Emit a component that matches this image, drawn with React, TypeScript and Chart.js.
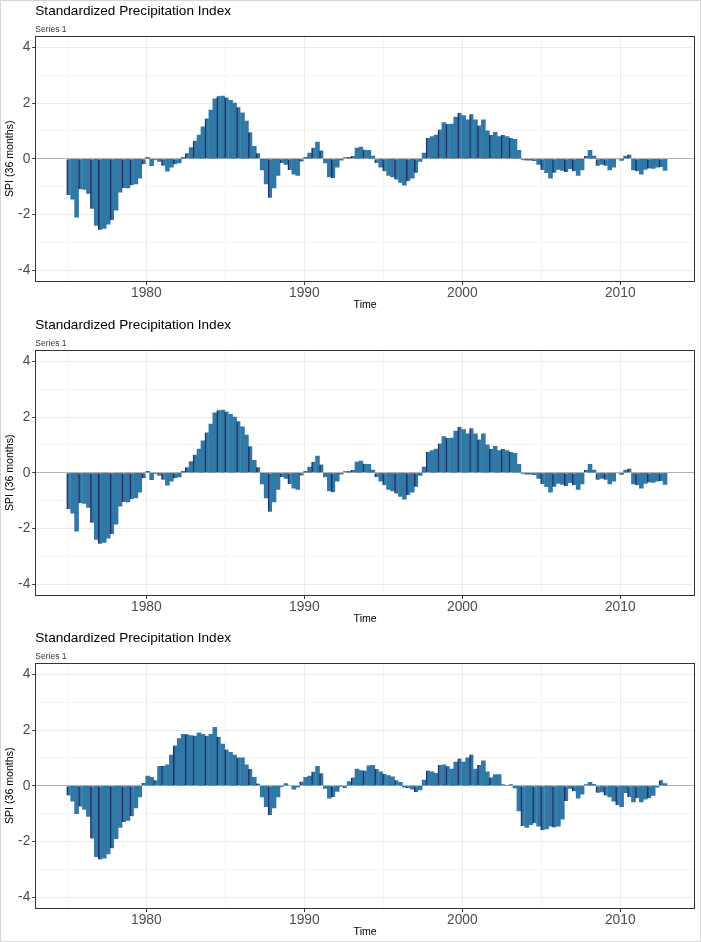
import { useEffect, useRef } from 'react';
import { Chart, registerables } from 'chart.js';

Chart.register(...registerables);

// ---------- text ----------
const chartTitle = 'Standardized Precipitation Index';
const seriesLabel = 'Series 1';
const yAxisTitle = 'SPI (36 months)';
const xAxisTitle = 'Time';

// ---------- axes ----------
const startYear = 1975;
const periodsPerYear = 4; // quarterly readings
const xMajorTicks = [1980, 1990, 2000, 2010];
const xMinorTicks = [1975, 1985, 1995, 2005];
const yMajorTicks = [-4, -2, 0, 2, 4];
const yMinorTicks = [-3, -1, 1, 3];
const xLimits = [1972.97, 2014.73];
const yLimits = [-4.43, 4.43];

// ---------- series values (SPI, quarterly, 1975 - 2012) ----------
const spiSeriesA = [
  -1.3, -1.45, -2.1, -1.1, -1.1, -1.25, -1.8, -2.4,
  -2.55, -2.5, -2.35, -2.2, -1.85, -1.2, -1.05, -1.05,
  -0.95, -0.9, -0.7, -0.2, 0.05, -0.25, -0.05, -0.1,
  -0.25, -0.45, -0.3, -0.2, -0.15, 0.05, 0.2, 0.4,
  0.65, 0.85, 1.15, 1.45, 1.75, 2.15, 2.25, 2.25,
  2.2, 2.1, 2.0, 1.85, 1.65, 1.35, 0.95, 0.45,
  0.2, -0.4, -0.9, -1.4, -1.05, -0.6, -0.15, -0.2,
  -0.4, -0.55, -0.6, -0.1, 0.05, 0.2, 0.4, 0.6,
  0.3, -0.15, -0.65, -0.7, -0.3, -0.05, 0.05, 0.05,
  0.1, 0.38, 0.42, 0.32, 0.3, 0.1, -0.15, -0.3,
  -0.45, -0.6, -0.65, -0.75, -0.85, -0.95, -0.8, -0.7,
  -0.5, -0.1, 0.2, 0.75, 0.8, 0.85, 1.05, 1.3,
  1.25, 1.25, 1.5, 1.65, 1.55, 1.4, 1.6, 1.4,
  1.2, 1.4, 1.0, 0.85, 0.95, 0.8, 0.85, 0.8,
  0.75, 0.7, 0.3, -0.05, -0.05, -0.05, -0.08, -0.2,
  -0.4, -0.5, -0.7, -0.5, -0.38, -0.42, -0.48, -0.36,
  -0.45, -0.6, -0.4, 0.1, 0.3, 0.1, -0.25, -0.2,
  -0.25, -0.4, -0.3, -0.03, -0.06, 0.1, 0.15, -0.4,
  -0.45, -0.55, -0.38, -0.35, -0.35, -0.3, -0.3, -0.42,
];

const spiSeriesB = [
  -0.35, -0.55, -1.0, -0.75, -0.85, -1.1, -1.9, -2.55,
  -2.65, -2.6, -2.45, -2.25, -1.9, -1.5, -1.3, -1.25,
  -1.1, -0.8, -0.4, 0.1, 0.35, 0.3, 0.2, 0.7,
  0.72, 0.75, 1.1, 1.45, 1.7, 1.85, 1.85, 1.8,
  1.8, 1.9, 1.85, 1.8, 1.85, 2.1, 1.75, 1.5,
  1.3, 1.2, 1.1, 1.02, 1.0, 0.75, 0.6, 0.3,
  0.08, -0.4, -0.75, -1.05, -0.8, -0.4, -0.05, 0.08,
  -0.02, -0.12, -0.05, 0.15, 0.3, 0.35, 0.5, 0.7,
  0.45, -0.1, -0.45, -0.4, -0.2, -0.02, -0.08, 0.15,
  0.3, 0.6, 0.55, 0.55, 0.72, 0.73, 0.6, 0.5,
  0.42, 0.37, 0.32, 0.2, 0.12, -0.05, -0.08, -0.12,
  -0.22, -0.15, 0.2, 0.55, 0.5, 0.45, 0.75, 0.75,
  0.7, 0.6, 0.85, 0.98, 0.85, 1.0, 1.12, 0.6,
  0.75, 0.9, 0.5, 0.3, 0.4, 0.4, 0.05, 0.0,
  0.05, -0.08, -0.9, -1.45, -1.5, -1.4, -1.35, -1.45,
  -1.6, -1.55, -1.45, -1.5, -1.45, -1.2, -0.55, -0.1,
  -0.2, -0.45, -0.3, 0.05, 0.12, 0.05, -0.25, -0.22,
  -0.35, -0.4, -0.55, -0.7, -0.75, -0.25, -0.4, -0.58,
  -0.45, -0.58, -0.48, -0.45, -0.35, -0.05, 0.2, 0.08,
];

const panelSeries = [spiSeriesA, spiSeriesA, spiSeriesB];

// ---------- style ----------
const FONT = '"Liberation Sans", Arial, "DejaVu Sans", sans-serif';
const PANEL_W = 701;
const PANEL_H = 314;
const panelTops = [0, 314, 627];
const barFill = '#3079a6';
const barStripe = '#222f6c';
const gridColor = '#ebebeb';
const zeroLineColor = '#b3b3b3';
const frameColor = '#333333';
const tickTextColor = '#4d4d4d';

const isStripe = (i: number) => Math.floor((i * 3) / 8) !== Math.floor(((i - 1) * 3) / 8);

const framePlugin = {
  id: 'panelFrame',
  afterDatasetsDraw(chart: any) {
    const { ctx, chartArea: a } = chart;
    ctx.save();
    ctx.strokeStyle = frameColor;
    ctx.lineWidth = 1;
    const l = Math.round(a.left) + 0.5;
    const t = Math.round(a.top) + 0.5;
    const r = Math.round(a.right) - 0.5;
    const b = Math.round(a.bottom) - 0.5;
    ctx.strokeRect(l, t, r - l, b - t);
    ctx.restore();
  },
};

function makeConfig(values: number[]): any {
  const xTicks = [...xMajorTicks, ...xMinorTicks].sort((p, q) => p - q);
  const yTicks = [...yMajorTicks, ...yMinorTicks].sort((p, q) => p - q);
  return {
    type: 'bar',
    data: {
      datasets: [
        {
          label: seriesLabel,
          data: values.map((v, i) => ({ x: startYear + (i + 1 / 3) / periodsPerYear, y: v })),
          backgroundColor: barFill,
          borderColor: barStripe,
          borderSkipped: false,
          borderWidth: (c: any) =>
            isStripe(c.dataIndex) ? { left: 1.5, right: 0, top: 0, bottom: 0 } : 0,
          categoryPercentage: 1,
          barPercentage: 1,
        },
      ],
    },
    options: {
      responsive: false,
      animation: false,
      events: [],
      layout: { padding: { left: 0, right: 6, top: 0, bottom: 0 } },
      plugins: {
        legend: { display: false },
        tooltip: { enabled: false },
        title: {
          display: true,
          text: chartTitle,
          align: 'start',
          fullSize: false,
          color: '#000000',
          font: { family: FONT, size: 13.6, weight: 'normal', lineHeight: 1.2 },
          padding: { top: 3, bottom: 5.5 },
        },
        subtitle: {
          display: true,
          text: seriesLabel,
          align: 'start',
          fullSize: false,
          color: '#333333',
          font: { family: FONT, size: 8.5, weight: 'normal', lineHeight: 1.2 },
          padding: { top: 0, bottom: 0.5 },
        },
      },
      scales: {
        x: {
          type: 'linear',
          min: xLimits[0],
          max: xLimits[1],
          offset: false,
          afterBuildTicks: (axis: any) => {
            axis.ticks = xTicks.map((v) => ({ value: v }));
          },
          afterFit: (axis: any) => {
            axis.height = 32;
          },
          border: { display: false },
          grid: {
            offset: false,
            drawTicks: true,
            tickLength: 3,
            color: gridColor,
            lineWidth: (c: any) => (c.tick && xMajorTicks.includes(c.tick.value) ? 1 : 0.5),
            tickColor: (c: any) =>
              c.tick && xMajorTicks.includes(c.tick.value) ? frameColor : 'rgba(0,0,0,0)',
          },
          ticks: {
            autoSkip: false,
            maxRotation: 0,
            padding: 0,
            color: tickTextColor,
            font: { family: FONT, size: 13.8 },
            callback: (v: any) => (xMajorTicks.includes(v) ? String(v) : ''),
          },
          title: {
            display: true,
            text: xAxisTitle,
            color: '#000000',
            font: { family: FONT, size: 10.6 },
            padding: { top: 0, bottom: 2.5 },
          },
        },
        y: {
          type: 'linear',
          min: yLimits[0],
          max: yLimits[1],
          afterBuildTicks: (axis: any) => {
            axis.ticks = yTicks.map((v) => ({ value: v }));
          },
          afterFit: (axis: any) => {
            axis.width = 35.3;
          },
          border: { display: false },
          grid: {
            drawTicks: true,
            tickLength: 3,
            color: (c: any) => (c.tick && c.tick.value === 0 ? zeroLineColor : gridColor),
            lineWidth: (c: any) => (c.tick && yMajorTicks.includes(c.tick.value) ? 1 : 0.5),
            tickColor: (c: any) =>
              c.tick && yMajorTicks.includes(c.tick.value) ? frameColor : 'rgba(0,0,0,0)',
          },
          ticks: {
            autoSkip: false,
            padding: 2,
            color: tickTextColor,
            font: { family: FONT, size: 13.8 },
            callback: (v: any) => (yMajorTicks.includes(v) ? String(v) : ''),
          },
          title: {
            display: true,
            text: yAxisTitle,
            color: '#000000',
            font: { family: FONT, size: 10.6 },
            padding: { top: 3.5, bottom: 0 },
          },
        },
      },
    },
    plugins: [framePlugin],
  };
}

function SpiPanel({ values, top }: { values: number[]; top: number }) {
  const ref = useRef<HTMLCanvasElement | null>(null);
  useEffect(() => {
    if (!ref.current) return;
    const chart = new Chart(ref.current, makeConfig(values));
    return () => chart.destroy();
  }, [values]);
  return (
    <canvas
      ref={ref}
      width={PANEL_W}
      height={PANEL_H}
      style={{ position: 'absolute', left: 0, top, width: PANEL_W, height: PANEL_H, display: 'block' }}
    />
  );
}

export default function App() {
  return (
    <div
      style={{
        position: 'absolute',
        left: 0,
        top: 0,
        width: PANEL_W,
        height: 942,
        background: '#ffffff',
        overflow: 'hidden',
      }}
    >
      {panelSeries.map((vals, i) => (
        <SpiPanel key={i} values={vals} top={panelTops[i]} />
      ))}
      <div
        style={{
          position: 'absolute',
          left: 0,
          top: 0,
          width: PANEL_W,
          height: 942,
          boxSizing: 'border-box',
          border: '1px solid #d6d6d6',
          pointerEvents: 'none',
        }}
      />
    </div>
  );
}
